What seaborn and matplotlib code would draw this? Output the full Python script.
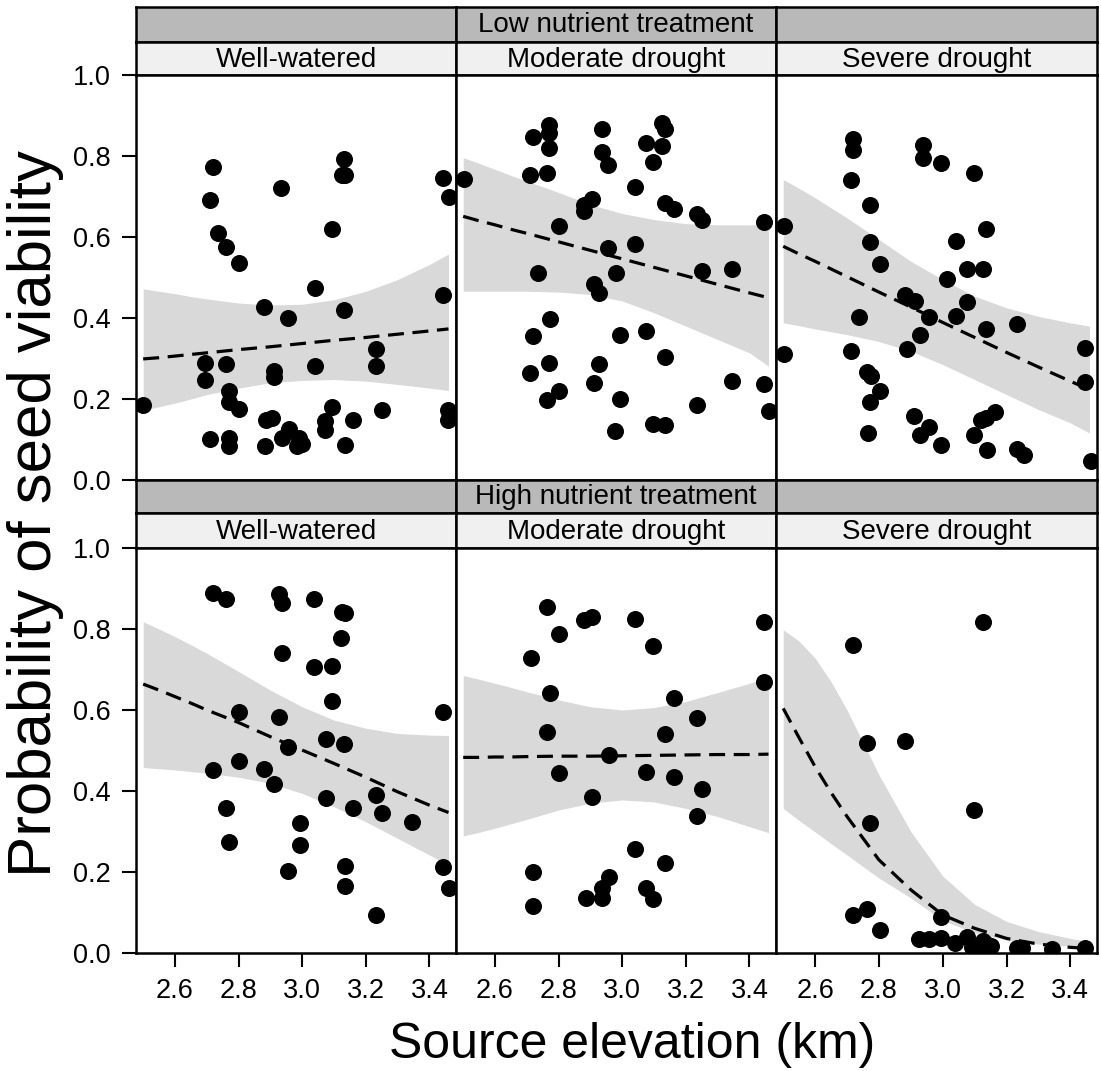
import numpy as np
import pandas as pd
import matplotlib
matplotlib.use("Agg")
import matplotlib.pyplot as plt
import seaborn as sns

# ---------------- data ----------------
nutrients = ["Low nutrient treatment", "High nutrient treatment"]
waters = ["Well-watered", "Moderate drought", "Severe drought"]
x_ticks = [2.6, 2.8, 3.0, 3.2, 3.4]
y_ticks = [0.0, 0.2, 0.4, 0.6, 0.8, 1.0]

# Low nutrient, well-watered
low_ww_x = [2.500, 2.718, 2.710, 2.736, 2.760, 2.800, 2.694, 2.694, 2.760, 2.771, 2.771, 2.800,
            2.710, 2.771, 2.771, 2.934, 2.881, 2.955, 2.910, 2.910, 2.887, 2.905, 2.884, 2.958,
            2.936, 2.991, 2.983, 2.998, 3.039, 3.039, 3.095, 3.131, 3.124, 3.134, 3.131, 3.095,
            3.073, 3.073, 3.161, 3.134, 3.232, 3.232, 3.250, 3.444, 3.462, 3.444, 3.459, 3.459]
low_ww_y = [0.186, 0.774, 0.691, 0.609, 0.576, 0.536, 0.289, 0.248, 0.287, 0.219, 0.192, 0.176,
            0.102, 0.104, 0.083, 0.721, 0.427, 0.399, 0.268, 0.254, 0.149, 0.153, 0.085, 0.127,
            0.104, 0.104, 0.085, 0.090, 0.473, 0.282, 0.619, 0.792, 0.752, 0.752, 0.419, 0.180,
            0.145, 0.124, 0.147, 0.087, 0.324, 0.281, 0.174, 0.745, 0.699, 0.458, 0.172, 0.147]

# Low nutrient, moderate drought
low_md_x = [2.503, 2.718, 2.771, 2.771, 2.771, 2.710, 2.763, 2.801, 2.736, 2.773, 2.718, 2.771,
            2.711, 2.801, 2.763, 2.936, 2.936, 2.956, 2.880, 2.904, 2.880, 2.956, 2.980, 2.911,
            2.926, 3.040, 3.040, 2.993, 2.926, 2.911, 2.993, 2.978, 3.124, 3.135, 3.075, 3.124,
            3.096, 3.135, 3.163, 3.234, 3.252, 3.250, 3.344, 3.446, 3.075, 3.135, 3.344, 3.446,
            3.234, 3.463, 3.096, 3.135]
low_md_y = [0.744, 0.847, 0.876, 0.858, 0.819, 0.752, 0.759, 0.628, 0.511, 0.398, 0.355, 0.289,
            0.263, 0.219, 0.198, 0.866, 0.810, 0.778, 0.680, 0.693, 0.664, 0.573, 0.510, 0.483,
            0.462, 0.724, 0.582, 0.359, 0.287, 0.240, 0.200, 0.122, 0.881, 0.866, 0.833, 0.825,
            0.785, 0.683, 0.668, 0.658, 0.643, 0.515, 0.520, 0.637, 0.369, 0.303, 0.244, 0.237,
            0.184, 0.171, 0.139, 0.136]

# Low nutrient, severe drought
low_sd_x = [2.503, 2.503, 2.720, 2.720, 2.713, 2.773, 2.773, 2.804, 2.738, 2.713, 2.763, 2.776,
            2.804, 2.773, 2.765, 2.937, 2.937, 2.995, 3.098, 3.135, 3.042, 3.075, 3.125, 3.014,
            2.883, 2.914, 3.077, 2.958, 3.041, 2.928, 2.888, 3.135, 3.234, 3.447, 3.447, 2.911,
            2.958, 2.928, 2.995, 3.163, 3.135, 3.121, 3.098, 3.138, 3.234, 3.255, 3.465]
low_sd_y = [0.627, 0.311, 0.841, 0.816, 0.740, 0.680, 0.588, 0.534, 0.403, 0.318, 0.266, 0.258,
            0.219, 0.192, 0.117, 0.826, 0.796, 0.782, 0.759, 0.620, 0.591, 0.521, 0.520, 0.497,
            0.456, 0.443, 0.440, 0.403, 0.404, 0.359, 0.324, 0.373, 0.384, 0.326, 0.242, 0.159,
            0.131, 0.112, 0.087, 0.169, 0.153, 0.149, 0.110, 0.073, 0.077, 0.062, 0.048]

# High nutrient, well-watered
high_ww_x = [2.718, 2.760, 2.926, 2.936, 3.038, 3.124, 3.136, 3.122, 2.936, 3.038, 3.095, 3.095,
             2.801, 2.927, 3.444, 2.956, 3.074, 3.132, 2.718, 2.801, 2.881, 2.911, 3.074, 3.161,
             3.232, 3.251, 3.344, 2.760, 2.771, 2.993, 2.993, 2.956, 3.134, 3.134, 3.232, 3.444,
             3.462]
high_ww_y = [0.888, 0.874, 0.886, 0.863, 0.874, 0.843, 0.840, 0.779, 0.740, 0.705, 0.709, 0.623,
             0.594, 0.582, 0.596, 0.508, 0.528, 0.516, 0.452, 0.474, 0.455, 0.417, 0.382, 0.359,
             0.390, 0.345, 0.324, 0.357, 0.275, 0.322, 0.267, 0.202, 0.215, 0.166, 0.094, 0.212,
             0.160]

# High nutrient, moderate drought
high_md_x = [2.763, 2.802, 2.881, 2.906, 3.040, 3.096, 3.446, 2.712, 2.773, 2.763, 3.446, 3.163,
             3.234, 3.135, 2.957, 2.802, 3.075, 3.163, 3.252, 2.906, 3.234, 3.040, 3.135, 2.720,
             2.720, 2.957, 2.936, 2.936, 2.886, 3.075, 3.096]
high_md_y = [0.854, 0.787, 0.822, 0.830, 0.824, 0.758, 0.818, 0.728, 0.641, 0.545, 0.668, 0.630,
             0.581, 0.540, 0.489, 0.445, 0.446, 0.434, 0.404, 0.384, 0.338, 0.258, 0.221, 0.201,
             0.116, 0.187, 0.161, 0.137, 0.135, 0.160, 0.133]

# High nutrient, severe drought
high_sd_x = [2.720, 3.125, 2.764, 2.883, 2.773, 3.098, 2.720, 2.764, 2.804, 2.995, 2.925, 2.956,
             2.995, 3.040, 3.075, 3.093, 3.110, 3.135, 3.150, 3.125, 3.234, 3.250, 3.344, 3.446]
high_sd_y = [0.760, 0.818, 0.518, 0.524, 0.322, 0.353, 0.094, 0.108, 0.057, 0.090, 0.034, 0.034,
             0.038, 0.024, 0.040, 0.016, 0.012, 0.022, 0.017, 0.030, 0.012, 0.012, 0.010, 0.012]

# fitted curves and confidence bands
curve_x = [2.50, 2.55, 2.60, 2.65, 2.70, 2.80, 2.90, 3.00, 3.10, 3.20, 3.30, 3.40, 3.46]

low_ww_fit = [0.299, 0.302, 0.306, 0.310, 0.314, 0.322, 0.329, 0.337, 0.345, 0.352, 0.360, 0.368, 0.373]
low_ww_hi = [0.472, 0.466, 0.460, 0.453, 0.447, 0.437, 0.432, 0.434, 0.445, 0.466, 0.495, 0.532, 0.558]
low_ww_lo = [0.172, 0.181, 0.190, 0.200, 0.211, 0.227, 0.240, 0.246, 0.248, 0.244, 0.236, 0.227, 0.221]

low_md_fit = [0.651, 0.640, 0.630, 0.619, 0.609, 0.588, 0.567, 0.546, 0.525, 0.504, 0.483, 0.462, 0.450]
low_md_hi = [0.796, 0.782, 0.767, 0.752, 0.738, 0.710, 0.680, 0.658, 0.643, 0.633, 0.630, 0.630, 0.631]
low_md_lo = [0.466, 0.466, 0.466, 0.466, 0.466, 0.464, 0.458, 0.442, 0.413, 0.380, 0.347, 0.314, 0.281]

low_sd_fit = [0.577, 0.558, 0.540, 0.521, 0.502, 0.464, 0.427, 0.389, 0.352, 0.315, 0.279, 0.244, 0.223]
low_sd_hi = [0.742, 0.720, 0.697, 0.672, 0.647, 0.594, 0.540, 0.495, 0.454, 0.425, 0.404, 0.388, 0.380]
low_sd_lo = [0.388, 0.381, 0.373, 0.366, 0.359, 0.342, 0.318, 0.285, 0.248, 0.211, 0.174, 0.141, 0.116]

high_ww_fit = [0.664, 0.649, 0.633, 0.617, 0.600, 0.569, 0.534, 0.501, 0.468, 0.434, 0.398, 0.365, 0.347]
high_ww_hi = [0.818, 0.800, 0.781, 0.761, 0.740, 0.695, 0.649, 0.608, 0.575, 0.555, 0.542, 0.538, 0.537]
high_ww_lo = [0.458, 0.455, 0.452, 0.448, 0.444, 0.434, 0.419, 0.394, 0.361, 0.324, 0.283, 0.242, 0.217]

high_md_fit = [0.483, 0.483, 0.484, 0.484, 0.485, 0.486, 0.486, 0.487, 0.488, 0.489, 0.490, 0.490, 0.491]
high_md_hi = [0.685, 0.676, 0.666, 0.656, 0.645, 0.625, 0.608, 0.600, 0.606, 0.621, 0.643, 0.666, 0.682]
high_md_lo = [0.289, 0.298, 0.308, 0.319, 0.330, 0.353, 0.370, 0.378, 0.373, 0.357, 0.337, 0.312, 0.297]

high_sd_fit = [0.604, 0.531, 0.460, 0.396, 0.337, 0.230, 0.156, 0.094, 0.061, 0.036, 0.022, 0.014, 0.011]
high_sd_hi = [0.798, 0.770, 0.728, 0.670, 0.600, 0.440, 0.300, 0.190, 0.120, 0.078, 0.053, 0.036, 0.028]
high_sd_lo = [0.357, 0.327, 0.299, 0.270, 0.242, 0.185, 0.136, 0.080, 0.050, 0.032, 0.022, 0.017, 0.016]

# ---------------- assemble tables ----------------
panels = {
    (0, 0): (low_ww_x, low_ww_y, low_ww_fit, low_ww_lo, low_ww_hi),
    (0, 1): (low_md_x, low_md_y, low_md_fit, low_md_lo, low_md_hi),
    (0, 2): (low_sd_x, low_sd_y, low_sd_fit, low_sd_lo, low_sd_hi),
    (1, 0): (high_ww_x, high_ww_y, high_ww_fit, high_ww_lo, high_ww_hi),
    (1, 1): (high_md_x, high_md_y, high_md_fit, high_md_lo, high_md_hi),
    (1, 2): (high_sd_x, high_sd_y, high_sd_fit, high_sd_lo, high_sd_hi),
}
pts_frames, fit_frames = [], []
for (r, c), (px, py, f, lo, hi) in panels.items():
    pts_frames.append(pd.DataFrame({"nutrient": nutrients[r], "water": waters[c],
                                    "elev": px, "viab": py}))
    fit_frames.append(pd.DataFrame({"nutrient": nutrients[r], "water": waters[c],
                                    "elev": curve_x, "fit": f, "lo": lo, "hi": hi}))
points = pd.concat(pts_frames, ignore_index=True)
fits = pd.concat(fit_frames, ignore_index=True)

# ---------------- figure ----------------
sns.set_theme(style="white")
plt.rcParams["font.family"] = ["Liberation Sans", "DejaVu Sans"]
plt.rcParams["text.color"] = "black"
plt.rcParams["axes.labelcolor"] = "black"
plt.rcParams["xtick.color"] = "black"
plt.rcParams["ytick.color"] = "black"

W, H = 1101, 1071
fig = plt.figure(figsize=(W / 100, H / 100), dpi=100)


def rect(x0, y0, x1, y1):
    return [x0 / W, 1 - y1 / H, (x1 - x0) / W, (y1 - y0) / H]


col_edges = [136, 456, 776, 1097]
plot_rows = [(75, 480), (548, 953)]
dark_rows = [(7, 42), (480, 513)]
light_rows = [(42, 75), (513, 548)]
LW = 1.8
DARK = "#B9B9B9"
LIGHT = "#F0F0F0"
XLIM = (2.4774, 3.4836)

for r in range(2):
    for c in range(3):
        x0, x1 = col_edges[c], col_edges[c + 1]
        # dark (nutrient) strip
        sa = fig.add_axes(rect(x0, dark_rows[r][0], x1, dark_rows[r][1]))
        sa.set_facecolor(DARK)
        sa.set_xticks([]); sa.set_yticks([])
        for s in sa.spines.values():
            s.set_color("black"); s.set_linewidth(LW)
        if c == 1:
            sa.text(0.5, 0.5, nutrients[r], ha="center", va="center", fontsize=20,
                    color="black", transform=sa.transAxes)
        # light (water) strip
        la = fig.add_axes(rect(x0, light_rows[r][0], x1, light_rows[r][1]))
        la.set_facecolor(LIGHT)
        la.set_xticks([]); la.set_yticks([])
        for s in la.spines.values():
            s.set_color("black"); s.set_linewidth(LW)
        la.text(0.5, 0.45, waters[c], ha="center", va="center", fontsize=20,
                color="black", transform=la.transAxes)

        # main panel
        ax = fig.add_axes(rect(x0, plot_rows[r][0], x1, plot_rows[r][1]))
        sub_p = points[(points.nutrient == nutrients[r]) & (points.water == waters[c])]
        sub_f = fits[(fits.nutrient == nutrients[r]) & (fits.water == waters[c])]
        ax.fill_between(sub_f.elev, sub_f.lo, sub_f.hi, color="#D9D9D9", lw=0, zorder=1)
        sns.scatterplot(data=sub_p, x="elev", y="viab", ax=ax, color="black", s=150,
                        linewidth=0, zorder=2, legend=False)
        sns.lineplot(data=sub_f, x="elev", y="fit", ax=ax, color="black", lw=2.3,
                     linestyle=(0, (5.0, 2.7)), estimator=None, sort=False, zorder=3)
        ax.set_xlim(*XLIM)
        ax.set_ylim(0, 1)
        ax.set_xlabel(""); ax.set_ylabel("")
        ax.set_facecolor("white")
        for s in ax.spines.values():
            s.set_color("black"); s.set_linewidth(LW); s.set_visible(True)
        ax.set_xticks(x_ticks)
        ax.set_yticks(y_ticks)
        ax.tick_params(axis="both", direction="out", length=10, width=1.5, color="black",
                       labelsize=19.5, labelcolor="black")
        ax.tick_params(axis="x", pad=8)
        ax.tick_params(axis="y", pad=8)
        if r == 1:
            ax.set_xticklabels([f"{t:.1f}" for t in x_ticks])
            ax.tick_params(axis="x", bottom=True)
        else:
            ax.tick_params(axis="x", bottom=False, labelbottom=False)
        if c == 0:
            ax.set_yticklabels([f"{t:.1f}" for t in y_ticks])
            ax.tick_params(axis="y", left=True)
        else:
            ax.tick_params(axis="y", left=False, labelleft=False)

fig.text(36 / W, 1 - 514 / H, "Probability of seed viability", rotation=90,
         ha="center", va="center", fontsize=44.5, color="black")
fig.text(632 / W, 1 - 1045 / H, "Source elevation (km)", ha="center", va="center",
         fontsize=36, color="black")

fig.savefig("out.png", dpi=100, facecolor="white")
